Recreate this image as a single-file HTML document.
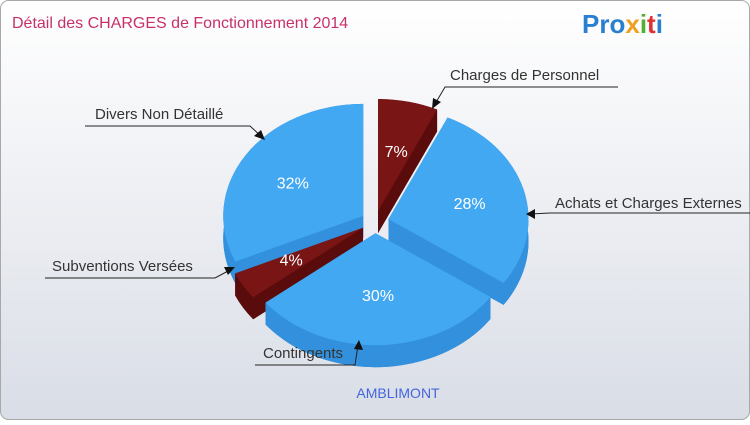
<!DOCTYPE html>
<html><head><meta charset="utf-8">
<style>
html,body{margin:0;padding:0;}
body{width:750px;height:420px;overflow:hidden;font-family:"Liberation Sans",sans-serif;}
</style></head>
<body>
<svg id="chart" width="750" height="420" xmlns="http://www.w3.org/2000/svg">
<defs>
<linearGradient id="bg" x1="0" y1="0" x2="0" y2="1">
<stop offset="0" stop-color="#ffffff"/><stop offset="1" stop-color="#d9dde6"/>
</linearGradient>
</defs>
<rect x="0.5" y="0.5" width="749" height="419" rx="8" fill="url(#bg)" stroke="#a8a8a8"/>
<text x="12" y="28" font-size="16" fill="#c8306a">Détail des CHARGES de Fonctionnement 2014</text>
<g font-size="26" font-weight="bold" font-family="'Liberation Sans',sans-serif">
<text x="582" y="33"><tspan fill="#2a80d0">Pro</tspan><tspan fill="#f0a020">x</tspan><tspan fill="#50b030">i</tspan><tspan fill="#e03030">t</tspan><tspan fill="#2a80d0">i</tspan></text>
</g>
<g id="slices"></g>
<g id="pcts"></g>
<g font-size="15" fill="#333" stroke="none">
<text x="450" y="80">Charges de Personnel</text>
<text x="555" y="208">Achats et Charges Externes</text>
<text x="95" y="119">Divers Non Détaillé</text>
<text x="52" y="271">Subventions Versées</text>
<text x="263" y="358">Contingents</text>
</g>
<g stroke="#222" fill="none" stroke-width="1">
<polyline points="618,87 445,87 435,104"/>
<polyline points="750,213 550,213 530,214"/>
<polyline points="85,126 250,126 262,137"/>
<polyline points="45,278 215,278 230,270"/>
<polyline points="255,365 355,365 358,345"/>
</g>
<g fill="#111">
<polygon points="432,109 433,98 441,102"/>
<polygon points="526,214 535,209 535,219"/>
<polygon points="265,140 254,136 261,130"/>
<polygon points="235,267 228,275 224,267"/>
<polygon points="359,340 363,350 354,349"/>
</g>
<text x="398" y="398" text-anchor="middle" font-size="14" fill="#4466dd">AMBLIMONT</text>
</svg>
<script>
const categories = ["Charges de Personnel","Achats et Charges Externes","Contingents","Subventions Versées","Divers Non Détaillé"];
const values = [7,28,30,4,32];
const pctLabels = ["7%","28%","30%","4%","32%"];
const topColors = ["#7a1515","#42a8f2","#42a8f2","#7a1515","#42a8f2"];
const sideColors = ["#5a0c0c","#3390dc","#3390dc","#5a0c0c","#3390dc"];

const cx=375, cy=222, rx=140, ry=112, depth=22, explode=14;
const NS="http://www.w3.org/2000/svg";
const total=values.reduce((a,b)=>a+b,0);
function pt(a,ox,oy,dy){return [cx+ox+rx*Math.sin(a), cy+oy-ry*Math.cos(a)+(dy||0)];}
const slices=[];let acc=0;
values.forEach((v,i)=>{const a1=acc/total*2*Math.PI;acc+=v;const a2=acc/total*2*Math.PI;const m=(a1+a2)/2;
 slices.push({i,a1,a2,m,ox:explode*Math.sin(m),oy:-explode*0.8*Math.cos(m)});});
const g=document.getElementById('slices');
const order=slices.slice().sort((a,b)=>(-Math.cos(a.m))-(-Math.cos(b.m)));
function arcPath(s,dy){const p1=pt(s.a1,s.ox,s.oy,dy),p2=pt(s.a2,s.ox,s.oy,dy);const large=(s.a2-s.a1)>Math.PI?1:0;
 return `M${cx+s.ox},${cy+s.oy+dy} L${p1[0]},${p1[1]} A${rx},${ry} 0 ${large} 1 ${p2[0]},${p2[1]} Z`;}
order.forEach(s=>{
 const grp=document.createElementNS(NS,'g');
 
 
 const side=sideColors[s.i];
 const b=document.createElementNS(NS,'path');b.setAttribute('d',arcPath(s,depth));b.setAttribute('fill',side);grp.appendChild(b);
 [s.a1,s.a2].forEach(a=>{const p=pt(a,s.ox,s.oy,0);const w=document.createElementNS(NS,'path');
  w.setAttribute('d',`M${cx+s.ox},${cy+s.oy} L${p[0]},${p[1]} L${p[0]},${p[1]+depth} L${cx+s.ox},${cy+s.oy+depth} Z`);
  w.setAttribute('fill',side);grp.appendChild(w);});
 const p1=pt(s.a1,s.ox,s.oy,0),p2=pt(s.a2,s.ox,s.oy,0);const large=(s.a2-s.a1)>Math.PI?1:0;
 const o=document.createElementNS(NS,'path');
 o.setAttribute('d',`M${p1[0]},${p1[1]} A${rx},${ry} 0 ${large} 1 ${p2[0]},${p2[1]} L${p2[0]},${p2[1]+depth} A${rx},${ry} 0 ${large} 0 ${p1[0]},${p1[1]+depth} Z`);
 o.setAttribute('fill',side);grp.appendChild(o);
 const t=document.createElementNS(NS,'path');t.setAttribute('d',arcPath(s,0));t.setAttribute('fill',topColors[s.i]);grp.appendChild(t);
 g.appendChild(grp);
});
const pg=document.getElementById('pcts');
slices.forEach(s=>{const p=[cx+s.ox+0.6*rx*Math.sin(s.m), cy+s.oy-0.55*ry*Math.cos(s.m)];
 const t=document.createElementNS(NS,'text');
 
 
 t.setAttribute('x',p[0]);t.setAttribute('y',p[1]+6);t.setAttribute('text-anchor','middle');
 t.setAttribute('font-size','16');t.setAttribute('fill','#fff');t.textContent=pctLabels[s.i];pg.appendChild(t);});
</script>
</body></html>
